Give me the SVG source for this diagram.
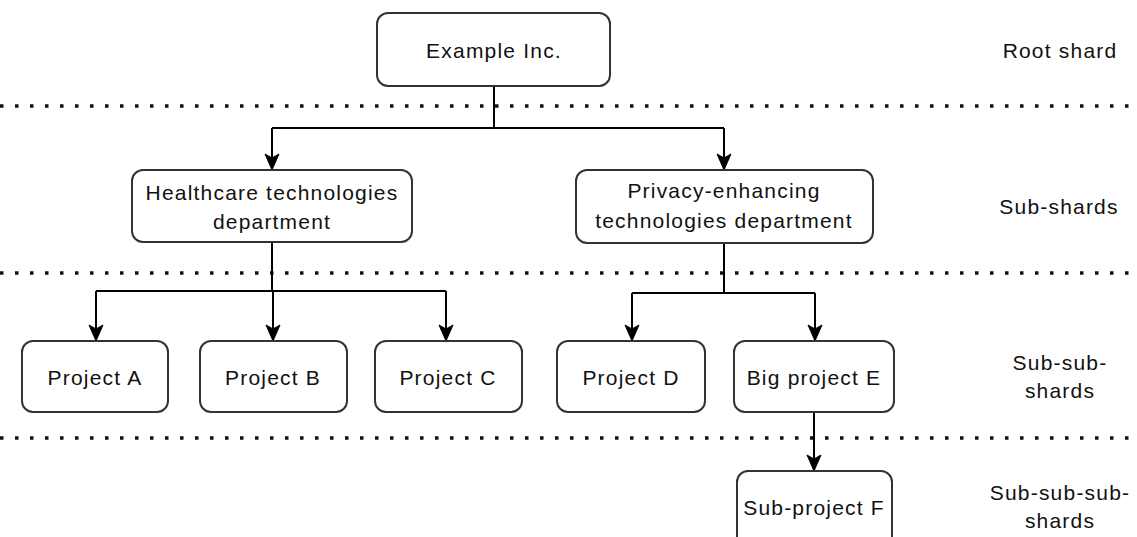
<svg xmlns="http://www.w3.org/2000/svg" width="1137" height="537" viewBox="0 0 1137 537">
<defs>
<marker id="arr" markerUnits="userSpaceOnUse" markerWidth="18" markerHeight="18" viewBox="0 0 18 18" refX="17" refY="9" orient="auto">
<path d="M1,2 L17,9 L1,16 L5,9 Z" fill="#000" stroke="#000" stroke-width="1"/>
</marker>
</defs>
<style>
.box{fill:#fff;stroke:#333;stroke-width:2}
.t{font-family:"Liberation Sans",Arial,sans-serif;font-size:21px;fill:#111;text-anchor:middle;letter-spacing:1.2px}
.c{fill:none;stroke:#000;stroke-width:2}
.dot{fill:none;stroke:#111;stroke-width:3.5;stroke-dasharray:3.5 11.5}
</style>
<rect width="1137" height="537" fill="#fff"/>
<g id="separators">
<line class="dot" x1="0" y1="106" x2="1137" y2="106"/>
<line class="dot" x1="0" y1="273" x2="1137" y2="273"/>
<line class="dot" x1="0" y1="438" x2="1137" y2="438"/>
</g>
<g id="connectors">
<path class="c" d="M494,87 V128"/>
<path class="c" d="M272,128 H724"/>
<path class="c" d="M272,128 V170" marker-end="url(#arr)"/>
<path class="c" d="M724,128 V170" marker-end="url(#arr)"/>
<path class="c" d="M272,242 V291"/>
<path class="c" d="M96,291 H446"/>
<path class="c" d="M96,291 V341" marker-end="url(#arr)"/>
<path class="c" d="M273,291 V341" marker-end="url(#arr)"/>
<path class="c" d="M446,291 V341" marker-end="url(#arr)"/>
<path class="c" d="M724,243 V293"/>
<path class="c" d="M632,293 H815"/>
<path class="c" d="M632,293 V341" marker-end="url(#arr)"/>
<path class="c" d="M815,293 V341" marker-end="url(#arr)"/>
<path class="c" d="M814,412 V471" marker-end="url(#arr)"/>
</g>
<g id="example">
<rect class="box" x="377" y="13" width="233" height="73" rx="11"/>
<text class="t" x="494" y="58">Example Inc.</text>
</g>
<g id="healthcare">
<rect class="box" x="132" y="170" width="280" height="72" rx="11"/>
<text class="t" x="272" y="200">Healthcare technologies</text>
<text class="t" x="272" y="229">department</text>
</g>
<g id="privacy">
<rect class="box" x="576" y="170" width="297" height="73" rx="11"/>
<text class="t" x="724" y="198">Privacy-enhancing</text>
<text class="t" x="724" y="228">technologies department</text>
</g>
<g id="projectA">
<rect class="box" x="22" y="341" width="146" height="71" rx="11"/>
<text class="t" x="95" y="385">Project A</text>
</g>
<g id="projectB">
<rect class="box" x="200" y="341" width="147" height="71" rx="11"/>
<text class="t" x="273" y="385">Project B</text>
</g>
<g id="projectC">
<rect class="box" x="375" y="341" width="147" height="71" rx="11"/>
<text class="t" x="448" y="385">Project C</text>
</g>
<g id="projectD">
<rect class="box" x="557" y="341" width="148" height="71" rx="11"/>
<text class="t" x="631" y="385">Project D</text>
</g>
<g id="projectE">
<rect class="box" x="734" y="341" width="160" height="71" rx="11"/>
<text class="t" x="814" y="385">Big project E</text>
</g>
<g id="subprojectF">
<rect class="box" x="737" y="471" width="155" height="80" rx="11"/>
<text class="t" x="814" y="515">Sub-project F</text>
</g>
<g id="labels">
<text class="t" x="1060" y="58">Root shard</text>
<text class="t" x="1059" y="214">Sub-shards</text>
<text class="t" x="1060" y="370">Sub-sub-</text>
<text class="t" x="1060" y="398">shards</text>
<text class="t" x="1060" y="500">Sub-sub-sub-</text>
<text class="t" x="1060" y="528">shards</text>
</g>
</svg>
